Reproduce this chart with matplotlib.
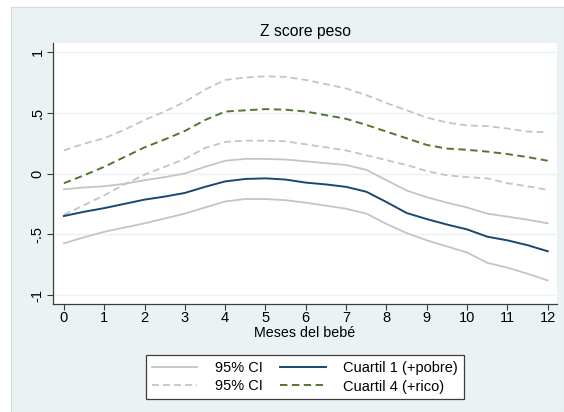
import matplotlib
matplotlib.use("Agg")
import matplotlib.pyplot as plt
from matplotlib.patches import Rectangle

plt.rcParams['font.family'] = ['Liberation Sans', 'DejaVu Sans']

# meses del bebé
meses = [0, 0.5, 1, 1.5, 2, 2.5, 3, 3.5, 4, 4.5, 5, 5.5, 6,
         6.5, 7, 7.5, 8, 8.5, 9, 9.5, 10, 10.5, 11, 11.5, 12]

# Cuartil 1 (+pobre) y su IC 95%
q1 = [-0.35, -0.315, -0.285, -0.25, -0.215, -0.19, -0.16, -0.11, -0.065, -0.045, -0.04, -0.05, -0.075,
      -0.09, -0.11, -0.15, -0.235, -0.325, -0.375, -0.42, -0.46, -0.52, -0.55, -0.59, -0.64]
q1_hi = [-0.13, -0.115, -0.105, -0.085, -0.055, -0.03, 0.0, 0.055, 0.105, 0.12, 0.12, 0.115, 0.10,
         0.085, 0.07, 0.03, -0.055, -0.14, -0.195, -0.24, -0.28, -0.33, -0.355, -0.38, -0.41]
q1_lo = [-0.575, -0.525, -0.48, -0.445, -0.41, -0.37, -0.33, -0.28, -0.23, -0.21, -0.21, -0.22, -0.24,
         -0.265, -0.29, -0.33, -0.415, -0.49, -0.55, -0.60, -0.65, -0.735, -0.775, -0.825, -0.88]

# Cuartil 4 (+rico) y su IC 95%
q4 = [-0.08, -0.015, 0.055, 0.135, 0.215, 0.28, 0.35, 0.44, 0.51, 0.52, 0.53, 0.525, 0.51,
      0.48, 0.45, 0.40, 0.345, 0.29, 0.235, 0.205, 0.195, 0.18, 0.16, 0.135, 0.105]
q4_hi = [0.19, 0.245, 0.29, 0.36, 0.44, 0.51, 0.59, 0.69, 0.77, 0.79, 0.80, 0.795, 0.77,
         0.735, 0.70, 0.645, 0.58, 0.52, 0.46, 0.42, 0.395, 0.39, 0.37, 0.345, 0.34]
q4_lo = [-0.34, -0.26, -0.18, -0.09, -0.01, 0.055, 0.12, 0.21, 0.26, 0.27, 0.27, 0.265, 0.24,
         0.215, 0.19, 0.15, 0.11, 0.07, 0.02, -0.015, -0.03, -0.04, -0.08, -0.105, -0.135]

xticks = list(range(0, 13))
yticks = [-1, -0.5, 0, 0.5, 1]
ytick_labels = ["-1", "-.5", "0", ".5", "1"]

bg = "#EAF2F3"
gris = "#C4C4C4"
azul = "#1A476F"
verde = "#55752F"
eje = "#3C3C3C"

fig = plt.figure(figsize=(5.64, 4.12), dpi=100, facecolor="white")
# fondo estilo Stata
fig.patches.append(Rectangle((11 / 564, 0), 1 - 11 / 564, (412 - 7) / 412,
                             transform=fig.transFigure, facecolor=bg,
                             edgecolor="#D4D8D8", linewidth=0.8, zorder=-10))

ax = fig.add_axes([53 / 564, 108 / 412, (557 - 53) / 564, (304 - 43) / 412])
ax.set_facecolor("white")

dash = (3.8, 2.3)
l1, = ax.plot(meses, q1_hi, color=gris, lw=1.3)
ax.plot(meses, q1_lo, color=gris, lw=1.3)
l2, = ax.plot(meses, q4_hi, color=gris, lw=1.3, dashes=dash)
ax.plot(meses, q4_lo, color=gris, lw=1.3, dashes=dash)
l3, = ax.plot(meses, q1, color=azul, lw=1.4)
l4, = ax.plot(meses, q4, color=verde, lw=1.4, dashes=dash)

ax.set_xlim(-0.27, 12.23)
ax.set_ylim(-1.074, 1.074)
ax.set_xticks(xticks)
ax.set_yticks(yticks)
ax.set_yticklabels(ytick_labels, rotation=90, va="center")
ax.grid(axis="y", color=bg, lw=1.0)
ax.set_axisbelow(True)

for s in ["top", "right"]:
    ax.spines[s].set_visible(False)
for s in ["left", "bottom"]:
    ax.spines[s].set_color(eje)
    ax.spines[s].set_linewidth(0.9)
ax.tick_params(axis="both", colors=eje, labelcolor="black", labelsize=10.5,
               length=4, width=0.8, direction="out")
ax.tick_params(axis="y", pad=2)
ax.tick_params(axis="x", pad=1)

ax.set_title("Z score peso", fontsize=11.3, pad=5)
ax.set_xlabel("Meses del bebé", fontsize=10.3, labelpad=0.5)

leg = fig.legend([l1, l2, l3, l4],
                 ["95% CI", "95% CI", "Cuartil 1 (+pobre)", "Cuartil 4 (+rico)"],
                 ncol=2, loc="upper center", bbox_to_anchor=(305 / 564, 1 - 348 / 412),
                 fontsize=10.5, frameon=True, fancybox=False, framealpha=1,
                 handlelength=3.1, handletextpad=1.2, columnspacing=1.2,
                 borderpad=0.4, labelspacing=0.3)
leg.get_frame().set_edgecolor(eje)
leg.get_frame().set_linewidth(0.9)

fig.savefig("out.png", dpi=100, facecolor=fig.get_facecolor())
